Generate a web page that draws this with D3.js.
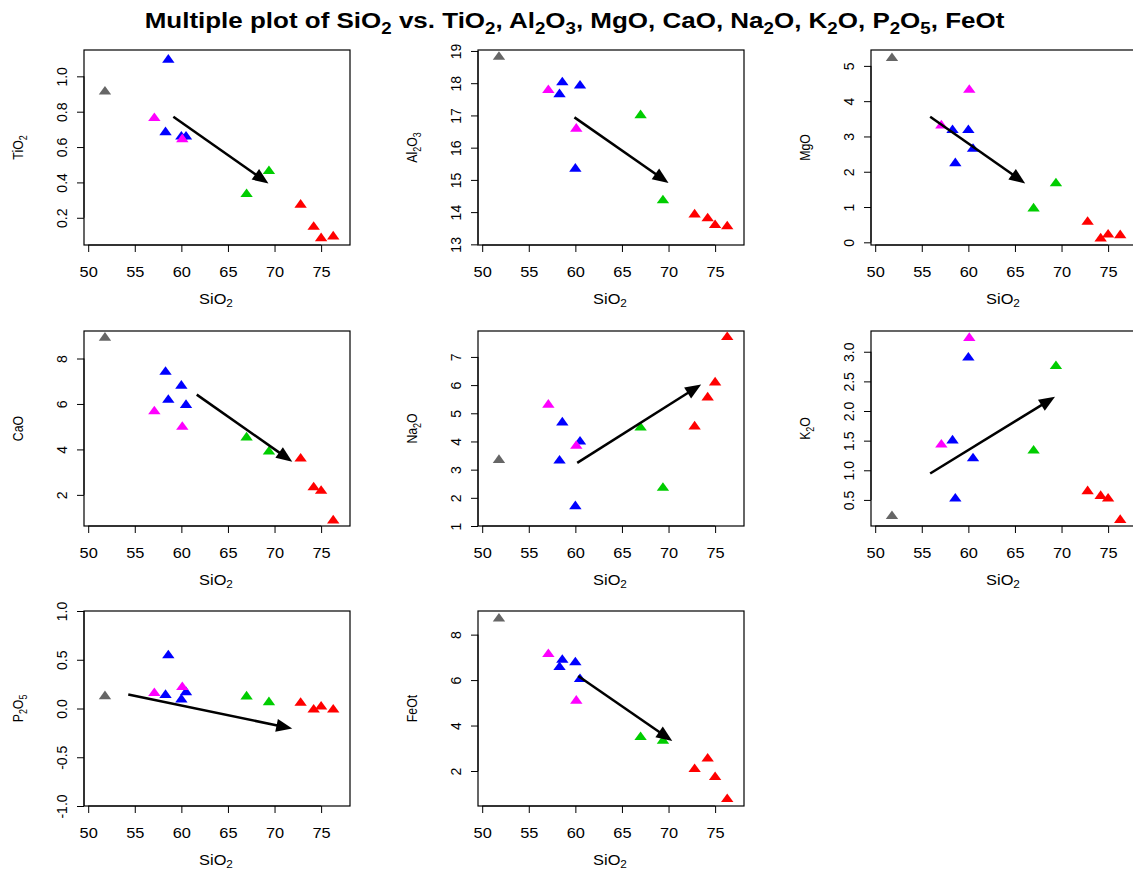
<!DOCTYPE html>
<html>
<head>
<meta charset="utf-8">
<script src="https://cdn.jsdelivr.net/npm/d3@7/dist/d3.min.js"></script>
<style>
  body { margin: 0; background: #fff; }
  svg { display: block; font-family: "Liberation Sans", Arial, Helvetica, sans-serif; }
</style>
</head>
<body>
<svg id="chart" width="1133" height="870"></svg>
<script>
// ---- Data: one entry per sample, same order in every array ----
const sampleGroup = ["G1", "G3", "G3", "G3", "G3", "G2", "G2", "G4", "G4", "G5", "G5", "G5", "G5"];
const sio2  = [51.8, 58.3, 58.6, 60.0, 60.5, 57.1, 60.1, 67.0, 69.4, 72.8, 74.2, 75.0, 76.3];
const tio2  = [0.92, 0.69, 1.10, 0.665, 0.665, 0.77, 0.65, 0.34, 0.47, 0.28, 0.155, 0.09, 0.10];
const al2o3 = [18.85, 17.69, 18.06, 15.38, 17.96, 17.82, 16.62, 17.04, 14.40, 13.96, 13.84, 13.63, 13.59];
const mgo   = [5.25, 3.21, 2.27, 3.21, 2.68, 3.34, 4.35, 0.99, 1.70, 0.61, 0.14, 0.25, 0.23];
const cao   = [8.96, 7.46, 6.23, 6.85, 6.00, 5.72, 5.04, 4.57, 3.95, 3.64, 2.38, 2.22, 0.92];
const na2o  = [3.38, 3.36, 4.71, 1.74, 4.03, 5.34, 3.88, 4.53, 2.39, 4.57, 5.60, 6.13, 7.74];
const k2o   = [0.245, 1.52, 0.54, 2.92, 1.22, 1.45, 3.25, 1.35, 2.775, 0.665, 0.585, 0.54, 0.18];
const p2o5  = [0.137, 0.15, 0.556, 0.103, 0.178, 0.168, 0.23, 0.134, 0.075, 0.068, 0.0, 0.03, 0.0];
const feot  = [8.75, 6.62, 6.94, 6.83, 6.09, 7.19, 5.14, 3.54, 3.38, 2.13, 2.59, 1.78, 0.81];

// Panel definitions ({} marks a subscript)
const panelLabels = ["TiO{2}", "Al{2}O{3}", "MgO", "CaO", "Na{2}O", "K{2}O", "P{2}O{5}", "FeOt"];
const panelValues = [tio2, al2o3, mgo, cao, na2o, k2o, p2o5, feot];
const yRanges = [[0.046, 1.149], [12.98, 19.03], [-0.076, 5.45], [0.63, 9.21],
                 [1.0, 7.92], [0.06, 3.35], [-1.0, 1.0], [0.46, 9.04]];
const yTickLabels = [
  ["0.2", "0.4", "0.6", "0.8", "1.0"],
  ["13", "14", "15", "16", "17", "18", "19"],
  ["0", "1", "2", "3", "4", "5"],
  ["2", "4", "6", "8"],
  ["1", "2", "3", "4", "5", "6", "7"],
  ["0.5", "1.0", "1.5", "2.0", "2.5", "3.0"],
  ["-1.0", "-0.5", "0.0", "0.5", "1.0"],
  ["2", "4", "6", "8"]
];
const xRange = [49.55, 78.1];
const xTickLabels = ["50", "55", "60", "65", "70", "75"];
// Trend arrows per panel: [x0, y0, x1, y1] in data units
const trendArrows = [
  [59.14, 0.771, 69.35, 0.394],
  [59.9, 16.94, 70.0, 14.9],
  [55.9, 3.56, 66.1, 1.67],
  [61.65, 6.41, 71.9, 3.46],
  [60.2, 3.24, 73.5, 6.02],
  [55.9, 0.946, 69.3, 2.24],
  [54.3, 0.144, 71.9, -0.206],
  [60.3, 6.18, 70.4, 3.32]
];
const xLabel = "SiO{2}";
const titleText = "Multiple plot of SiO{2} vs. TiO{2}, Al{2}O{3}, MgO, CaO, Na{2}O, K{2}O, P{2}O{5}, FeOt";

// ---- Styling / layout ----
const groupColor = { G1: "#666666", G2: "#ff00ff", G3: "#0000ff", G4: "#00cd00", G5: "#ff0000" };
const colLeft = [84, 478, 871];
const rowTop = [50, 331, 611];
const pw = 266, ph = 195;
const fs = 14;          // axis text size
const hStretch = 1.17;  // horizontal text width factor

const svg = d3.select("#chart");

function richText(sel, str, size, shift = 0.28) {
  const parts = str.split(/(\{[^}]*\})/).filter(s => s.length);
  let inSub = false;
  parts.forEach(p => {
    if (p.startsWith("{")) {
      sel.append("tspan").attr("font-size", size * 0.72).attr("dy", size * shift).text(p.slice(1, -1));
      inSub = true;
    } else {
      const t = sel.append("tspan").text(p);
      if (inSub) { t.attr("dy", -size * shift); inSub = false; }
    }
  });
  return sel;
}

// Title
const title = svg.append("text")
  .attr("text-anchor", "middle")
  .attr("font-size", 22)
  .attr("font-weight", "bold")
  .attr("fill", "#000");
richText(title, titleText, 22);
const tw = title.node().getBBox().width;
title.attr("transform", `translate(574.5,28) scale(${861 / tw},1)`);

const triPath = "M0,-4.6L6.2,4L-6.2,4Z";

panelValues.forEach((vals, i) => {
  const col = i % 3, row = Math.floor(i / 3);
  const left = colLeft[col], top = rowTop[row];
  const x = d3.scaleLinear().domain(xRange).range([left, left + pw]);
  const y = d3.scaleLinear().domain(yRanges[i]).range([top + ph, top]);
  const g = svg.append("g");

  // y axis
  const yTicks = yTickLabels[i].map(Number);
  const yAxis = g.append("g")
    .attr("transform", `translate(${left},0)`)
    .call(d3.axisLeft(y).tickValues(yTicks).tickSize(7).tickSizeOuter(0)
      .tickFormat((d, k) => yTickLabels[i][k]));
  yAxis.select(".domain").remove();
  yAxis.attr("font-family", null).attr("font-size", null);
  yAxis.selectAll(".tick line").attr("stroke", "#000").attr("stroke-width", 1);
  yAxis.selectAll(".tick text")
    .attr("x", 0).attr("y", 0).attr("dy", null)
    .attr("text-anchor", "middle")
    .attr("font-size", fs)
    .attr("fill", "#000")
    .attr("transform", "translate(-17,0) rotate(-90)");
  g.append("line")
    .attr("x1", left).attr("x2", left)
    .attr("y1", y(yTicks[0])).attr("y2", y(yTicks[yTicks.length - 1]))
    .attr("stroke", "#000").attr("stroke-width", 1);

  // x axis
  const xTicks = xTickLabels.map(Number);
  const xAxis = g.append("g")
    .attr("transform", `translate(0,${top + ph})`)
    .call(d3.axisBottom(x).tickValues(xTicks).tickSize(7).tickSizeOuter(0)
      .tickFormat((d, k) => xTickLabels[k]));
  xAxis.select(".domain").remove();
  xAxis.attr("font-family", null).attr("font-size", null);
  xAxis.selectAll(".tick line").attr("stroke", "#000").attr("stroke-width", 1);
  xAxis.selectAll(".tick text")
    .attr("x", 0).attr("y", 0).attr("dy", null)
    .attr("text-anchor", "middle")
    .attr("font-size", fs)
    .attr("fill", "#000")
    .attr("transform", `translate(0,31.5) scale(${hStretch},1)`);
  g.append("line")
    .attr("x1", x(xTicks[0])).attr("x2", x(xTicks[xTicks.length - 1]))
    .attr("y1", top + ph).attr("y2", top + ph)
    .attr("stroke", "#000").attr("stroke-width", 1);

  // plot frame
  g.append("rect")
    .attr("x", left).attr("y", top).attr("width", pw).attr("height", ph)
    .attr("fill", "none").attr("stroke", "#000").attr("stroke-width", 1.2);

  // axis titles
  const xt = g.append("text")
    .attr("text-anchor", "middle").attr("font-size", fs).attr("fill", "#000")
    .attr("transform", `translate(${left + pw / 2 - 1},${top + ph + 58.5}) scale(${hStretch},1)`);
  richText(xt, xLabel, fs, 0.22);
  const yt = g.append("text")
    .attr("text-anchor", "middle").attr("font-size", fs).attr("fill", "#000")
    .attr("transform", `translate(${left - 61},${top + ph / 2}) rotate(-90) scale(0.88,1)`);
  richText(yt, panelLabels[i], fs);

  // points
  g.append("g").selectAll("path")
    .data(sio2.map((s, k) => ({ s, v: vals[k], grp: sampleGroup[k] })))
    .join("path")
    .attr("d", triPath)
    .attr("transform", d => `translate(${x(d.s)},${y(d.v)})`)
    .attr("fill", d => groupColor[d.grp]);

  // trend arrow
  const [ax0, ay0, ax1, ay1] = trendArrows[i];
  const p0 = [x(ax0), y(ay0)], p1 = [x(ax1), y(ay1)];
  const dx = p1[0] - p0[0], dy = p1[1] - p0[1];
  const len = Math.hypot(dx, dy);
  const ux = dx / len, uy = dy / len;
  const headLen = 16, headHalf = 6.5;
  const base = [p1[0] - ux * headLen, p1[1] - uy * headLen];
  g.append("line")
    .attr("x1", p0[0]).attr("y1", p0[1])
    .attr("x2", base[0] + ux * 2).attr("y2", base[1] + uy * 2)
    .attr("stroke", "#000").attr("stroke-width", 2.5);
  g.append("path")
    .attr("d", d3.line()([
      p1,
      [base[0] - uy * headHalf, base[1] + ux * headHalf],
      [base[0] + uy * headHalf, base[1] - ux * headHalf]
    ]) + "Z")
    .attr("fill", "#000");
});
</script>
</body>
</html>
